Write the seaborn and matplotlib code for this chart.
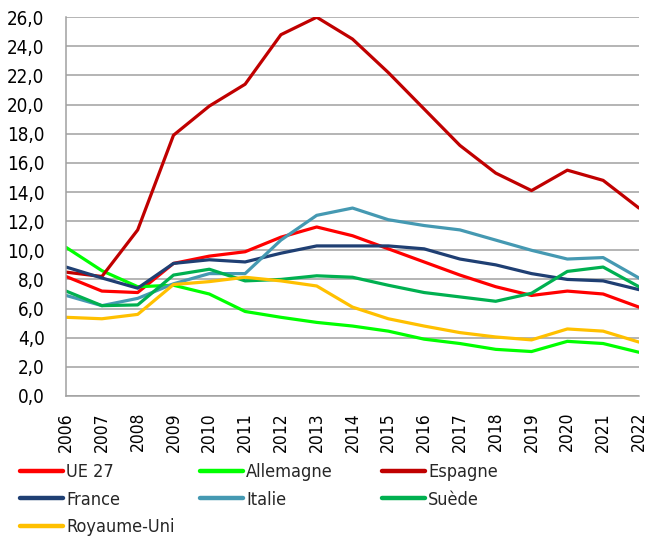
import pandas as pd
import matplotlib
matplotlib.use("Agg")
import matplotlib.pyplot as plt
import seaborn as sns

# ---- Data ----
years = list(range(2006, 2023))

ue27 = [8.2, 7.2, 7.1, 9.1, 9.6, 9.9, 10.9, 11.6, 11.0, 10.1, 9.2, 8.3, 7.5, 6.9, 7.2, 7.0, 6.1]
allemagne = [10.2, 8.6, 7.5, 7.6, 7.0, 5.8, 5.4, 5.05, 4.8, 4.45, 3.9, 3.6, 3.2, 3.05, 3.75, 3.6, 3.0]
espagne = [8.5, 8.2, 11.4, 17.9, 19.9, 21.4, 24.8, 26.0, 24.5, 22.2, 19.7, 17.2, 15.3, 14.1, 15.5, 14.8, 12.9]
france = [8.85, 8.1, 7.4, 9.1, 9.35, 9.2, 9.8, 10.3, 10.3, 10.3, 10.1, 9.4, 9.0, 8.4, 8.0, 7.9, 7.3]
italie = [6.9, 6.2, 6.7, 7.7, 8.4, 8.4, 10.7, 12.4, 12.9, 12.1, 11.7, 11.4, 10.7, 10.0, 9.4, 9.5, 8.1]
suede = [7.2, 6.2, 6.25, 8.3, 8.7, 7.9, 8.0, 8.25, 8.15, 7.6, 7.1, 6.8, 6.5, 7.05, 8.55, 8.85, 7.5]
royaume_uni = [5.4, 5.3, 5.6, 7.65, 7.85, 8.15, 7.9, 7.55, 6.1, 5.3, 4.8, 4.35, 4.05, 3.85, 4.6, 4.45, 3.7]

y_ticks = [0, 2, 4, 6, 8, 10, 12, 14, 16, 18, 20, 22, 24, 26]

series = {
    "UE 27": ue27,
    "Allemagne": allemagne,
    "Espagne": espagne,
    "France": france,
    "Italie": italie,
    "Suède": suede,
    "Royaume-Uni": royaume_uni,
}
colors = {
    "UE 27": "#FF0000",
    "Allemagne": "#00FF00",
    "Espagne": "#C00000",
    "France": "#1F3F73",
    "Italie": "#4599B2",
    "Suède": "#00B050",
    "Royaume-Uni": "#FFC000",
}

rows = []
for name, vals in series.items():
    for y, v in zip(years, vals):
        rows.append({"Année": y, "Valeur": v, "Pays": name})
df = pd.DataFrame(rows)

# ---- Plot ----
sns.set_style("white")
plt.rcParams["font.family"] = ["DejaVu Sans"]
plt.rcParams["font.stretch"] = "condensed"

fig = plt.figure(figsize=(6.48, 5.38), dpi=100)
ax = fig.add_axes([0.102, 0.264, 0.884, 0.704])

sns.lineplot(data=df, x="Année", y="Valeur", hue="Pays", hue_order=list(series.keys()),
             palette=colors, linewidth=2.3, ax=ax, legend=False)

ax.set_xlim(2006, 2022)
ax.set_ylim(0, 26)
ax.set_yticks(y_ticks)
ax.set_yticklabels([f"{v:.1f}".replace(".", ",") for v in y_ticks], fontsize=13.5)
ax.set_xticks(years)
ax.set_xticklabels([str(y) for y in years], rotation=90, fontsize=12.5)
ax.set_xlabel("")
ax.set_ylabel("")

ax.grid(axis="y", color="#A0A0A0", linewidth=1.1)
ax.set_axisbelow(True)
for s in ["top", "right"]:
    ax.spines[s].set_visible(False)
for s in ["left", "bottom"]:
    ax.spines[s].set_color("#A0A0A0")
    ax.spines[s].set_linewidth(1.1)
ax.tick_params(axis="both", direction="out", length=5.5, width=1.1,
               color="#A0A0A0", labelcolor="#000000")
ax.tick_params(axis="y", pad=10)
ax.tick_params(axis="x", pad=6)

# ---- Legend: three columns, one legend per column ----
columns = [["UE 27", "France", "Royaume-Uni"], ["Allemagne", "Italie"], ["Espagne", "Suède"]]
col_x = [0.031, 0.309, 0.590]
for names, x0 in zip(columns, col_x):
    handles = [plt.Line2D([], [], color=colors[n], linewidth=3.2, solid_capstyle="round")
               for n in names]
    fig.legend(handles, names, loc="upper left", bbox_to_anchor=(x0, 0.139),
               frameon=False, fontsize=13, handlelength=2.35, handletextpad=0.2,
               labelspacing=0.52, borderaxespad=0, borderpad=0)

fig.savefig("out.png", dpi=100)
